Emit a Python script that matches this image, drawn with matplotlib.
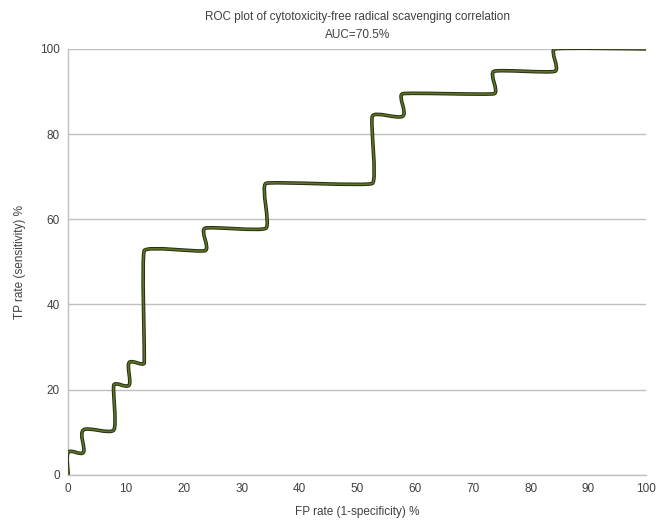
import numpy as np
import matplotlib.pyplot as plt
from matplotlib.path import Path
from matplotlib.patches import PathPatch

plt.rcParams['font.family'] = ['Liberation Sans', 'DejaVu Sans']

# ROC step points (FP rate %, TP rate %)
fp_rate = [0, 0, 2.63, 2.63, 7.89, 7.89, 10.53, 10.53, 13.16, 13.16, 23.68, 23.68,
           34.21, 34.21, 52.63, 52.63, 57.89, 57.89, 73.68, 73.68, 84.21, 84.21, 100]
tp_rate = [0, 5.26, 5.26, 10.53, 10.53, 21.05, 21.05, 26.32, 26.32, 52.63, 52.63, 57.89,
           57.89, 68.42, 68.42, 84.21, 84.21, 89.47, 89.47, 94.74, 94.74, 100, 100]
x_ticks = list(range(0, 101, 10))
y_ticks = list(range(0, 101, 20))


def smooth_path(ax, xs, ys, limit=0.3, max_px=6.0):
    # Excel-like smoothed line: beziers in screen space, tangents clamped
    pts = ax.transData.transform(np.column_stack([xs, ys]))
    n = len(pts)
    tang = []
    for i in range(n):
        prev = pts[max(i - 1, 0)]
        nxt = pts[min(i + 1, n - 1)]
        t = (nxt - prev) / 6.0
        lens = [np.hypot(*(pts[i] - prev)), np.hypot(*(nxt - pts[i]))]
        lens = [l for l in lens if l > 0]
        cap = min(limit * min(lens), max_px)
        mag = np.hypot(*t)
        if mag > cap:
            t = t * cap / mag
        tang.append(t)
    verts = [pts[0]]
    codes = [Path.MOVETO]
    for i in range(n - 1):
        verts += [pts[i] + tang[i], pts[i + 1] - tang[i + 1], pts[i + 1]]
        codes += [Path.CURVE4] * 3
    verts = ax.transData.inverted().transform(np.array(verts))
    return Path(verts, codes)


fig = plt.figure(figsize=(6.56, 5.2), dpi=100)
ax = fig.add_axes([0.104, 0.087, 0.881, 0.819])
ax.set_xlim(0, 100)
ax.set_ylim(0, 100)

ax.set_yticks(y_ticks)
ax.set_xticks(x_ticks)
ax.yaxis.grid(True, color='#bfbfbf', linewidth=1)
ax.set_axisbelow(True)
for s in ['top', 'right']:
    ax.spines[s].set_visible(False)
for s in ['left', 'bottom']:
    ax.spines[s].set_color('#bfbfbf')
    ax.spines[s].set_linewidth(1)
ax.tick_params(length=0, labelsize=8.5, colors='#404040', pad=6)

path = smooth_path(ax, fp_rate, tp_rate)
ax.add_patch(PathPatch(path, facecolor='none', edgecolor='#262d10', linewidth=2.6, zorder=3))
ax.add_patch(PathPatch(path, facecolor='none', edgecolor='#5c7428', linewidth=1.2, zorder=4))

ax.set_title('ROC plot of cytotoxicity-free radical scavenging correlation\nAUC=70.5%',
             fontsize=8.5, color='#404040', pad=8, linespacing=1.6)
ax.set_xlabel('FP rate (1-specificity) %', fontsize=8.5, color='#404040', labelpad=8)
ax.set_ylabel('TP rate (sensitivity) %', fontsize=8.5, color='#404040', labelpad=10)

fig.savefig('out.png', dpi=100)
